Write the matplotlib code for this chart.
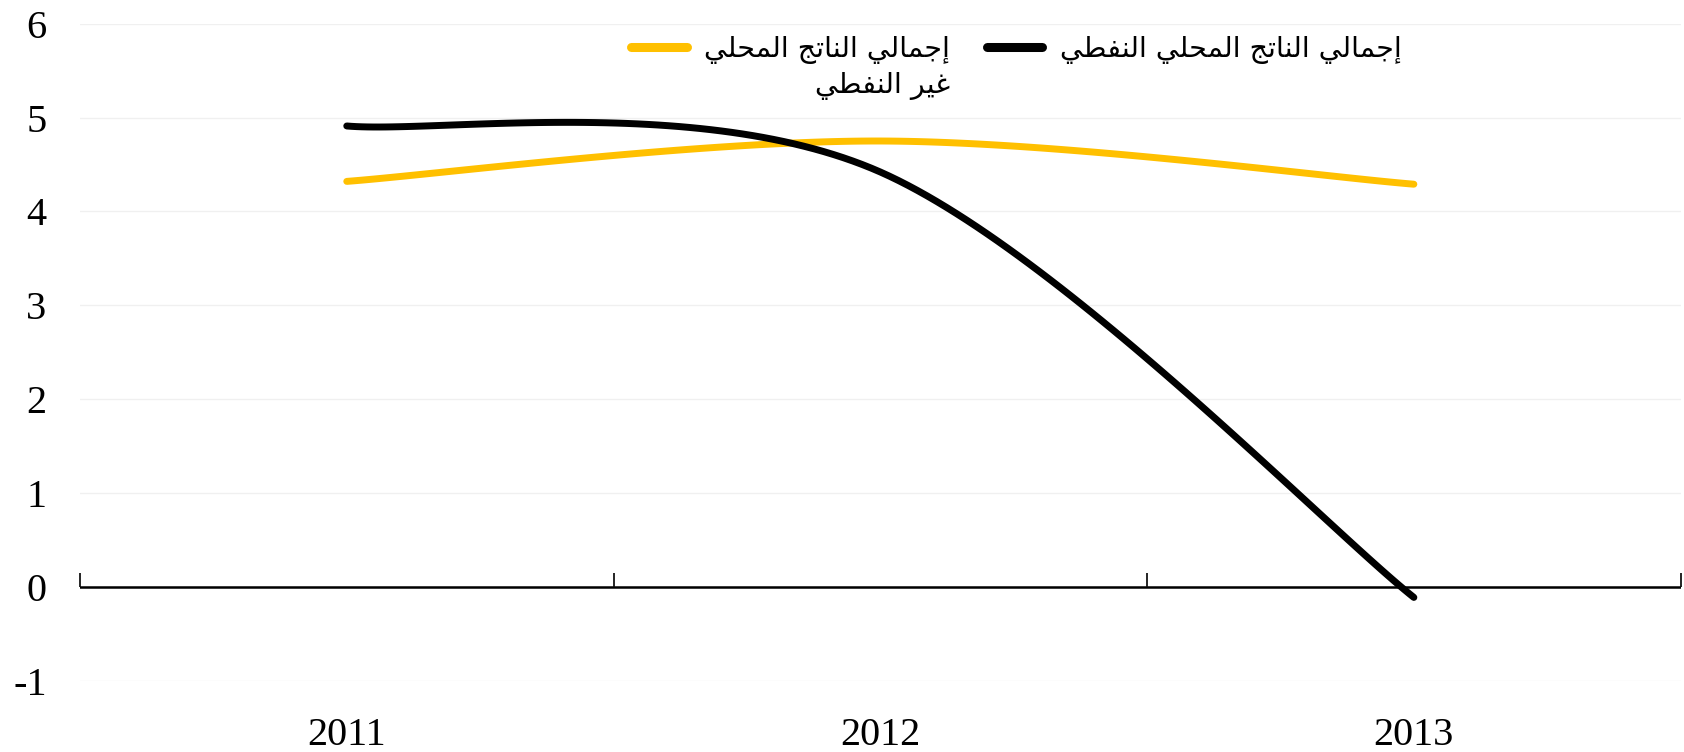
import numpy as np
import matplotlib
matplotlib.use("Agg")
import matplotlib.pyplot as plt

# -----------------------
# Data
# -----------------------
years = ["2011", "2012", "2013"]
oil_gdp = [4.91, 4.42, -0.11]
non_oil_gdp = [4.32, 4.75, 4.29]
label_oil = "إجمالي الناتج المحلي النفطي"
label_non_oil = "إجمالي الناتج المحلي"
label_non_oil_2 = "غير النفطي"
y_ticks = [-1, 0, 1, 2, 3, 4, 5, 6]

# -----------------------
# Arabic shaping (no external reshaper available)
# -----------------------
# isolated, final, initial, medial ; None = letter does not join to the next
FORMS = {
    "ا": ("\uFE8D", "\uFE8E", None, None),
    "إ": ("\uFE87", "\uFE88", None, None),
    "ر": ("\uFEAD", "\uFEAE", None, None),
    "ج": ("\uFE9D", "\uFE9E", "\uFE9F", "\uFEA0"),
    "م": ("\uFEE1", "\uFEE2", "\uFEE3", "\uFEE4"),
    "ل": ("\uFEDD", "\uFEDE", "\uFEDF", "\uFEE0"),
    "ي": ("\uFEF1", "\uFEF2", "\uFEF3", "\uFEF4"),
    "ن": ("\uFEE5", "\uFEE6", "\uFEE7", "\uFEE8"),
    "ت": ("\uFE95", "\uFE96", "\uFE97", "\uFE98"),
    "ح": ("\uFEA1", "\uFEA2", "\uFEA3", "\uFEA4"),
    "ط": ("\uFEC1", "\uFEC2", "\uFEC3", "\uFEC4"),
    "ف": ("\uFED1", "\uFED2", "\uFED3", "\uFED4"),
    "غ": ("\uFECD", "\uFECE", "\uFECF", "\uFED0"),
}


def shape(s):
    out = []
    for i, ch in enumerate(s):
        if ch not in FORMS:
            out.append(ch)
            continue
        prev = s[i - 1] if i > 0 else ""
        nxt = s[i + 1] if i + 1 < len(s) else ""
        join_prev = prev in FORMS and FORMS[prev][2] is not None
        join_next = nxt in FORMS and FORMS[ch][2] is not None
        iso, fin, ini, med = FORMS[ch]
        if join_prev and join_next:
            out.append(med)
        elif join_prev:
            out.append(fin)
        elif join_next:
            out.append(ini)
        else:
            out.append(iso)
    return "".join(out)[::-1]


# -----------------------
# Smooth curve (Excel-style bezier)
# -----------------------
def smooth(xs, ys, n=60):
    xs = np.asarray(xs, float)
    ys = np.asarray(ys, float)
    px = np.concatenate([[xs[0]], xs, [xs[-1]]])
    py = np.concatenate([[ys[0]], ys, [ys[-1]]])
    ox, oy = [], []
    t = np.linspace(0, 1, n)
    for i in range(1, len(px) - 2):
        p0 = np.array([px[i], py[i]])
        p3 = np.array([px[i + 1], py[i + 1]])
        c1 = p0 + (np.array([px[i + 1], py[i + 1]]) - np.array([px[i - 1], py[i - 1]])) / 6
        c2 = p3 - (np.array([px[i + 2], py[i + 2]]) - np.array([px[i], py[i]])) / 6
        b = ((1 - t) ** 3)[:, None] * p0 + (3 * (1 - t) ** 2 * t)[:, None] * c1 \
            + (3 * (1 - t) * t ** 2)[:, None] * c2 + (t ** 3)[:, None] * p3
        ox.extend(b[:, 0])
        oy.extend(b[:, 1])
    return np.array(ox), np.array(oy)


plt.rcParams['font.family'] = ['Liberation Serif', 'DejaVu Sans']

fig = plt.figure(figsize=(16.84, 7.52), dpi=100)
ax = fig.add_axes([0.0475, 0.0944, 0.9505, 0.8742])

x = np.arange(len(years))
sx, sy = smooth(x, non_oil_gdp)
ax.plot(sx, sy, color="#FFC000", lw=5, solid_capstyle="round", label=shape(label_non_oil), zorder=3)
sx, sy = smooth(x, oil_gdp)
ax.plot(sx, sy, color="black", lw=5, solid_capstyle="round", label=shape(label_oil), zorder=3)

ax.set_xlim(-0.5, len(years) - 0.5)
ax.set_ylim(y_ticks[0], y_ticks[-1])
ax.set_yticks(y_ticks)
ax.set_yticklabels([str(v) for v in y_ticks])
ax.yaxis.grid(True, color="#f0f0f0", lw=1)
ax.set_axisbelow(True)
for s in ax.spines.values():
    s.set_visible(False)
ax.tick_params(axis="y", length=0, pad=24, labelsize=29)
ax.set_xticks(x)
ax.set_xticklabels(years)
ax.tick_params(axis="x", length=0, pad=26, labelsize=29)

# zero line with category boundary ticks
ax.axhline(0, color="black", lw=1.8, zorder=2)
zero_pos = (0 - y_ticks[0]) / (y_ticks[-1] - y_ticks[0])
sec = ax.secondary_xaxis(zero_pos)
sec.set_xticks(np.arange(len(years) + 1) - 0.5)
sec.set_xticklabels([])
sec.tick_params(direction="in", length=10, width=1.2, color="black")
sec.spines["bottom"].set_visible(False)

leg = ax.legend(loc="upper center", bbox_to_anchor=(0.585, 1.021), ncol=2, frameon=False,
                prop={"family": "DejaVu Sans", "size": 20.5}, handlelength=1.95,
                columnspacing=1.3, handletextpad=0.6)
for h in leg.get_lines():
    h.set_linewidth(6.5)

# second line of the wrapped non-oil label, right aligned under the first
fig.canvas.draw()
bb = leg.get_texts()[0].get_window_extent()
fig.text(bb.x1 / fig.bbox.width, (bb.y0 - 8) / fig.bbox.height, shape(label_non_oil_2),
         ha="right", va="top", family="DejaVu Sans", fontsize=20.5)

fig.savefig("out.png", dpi=100, facecolor="white")
